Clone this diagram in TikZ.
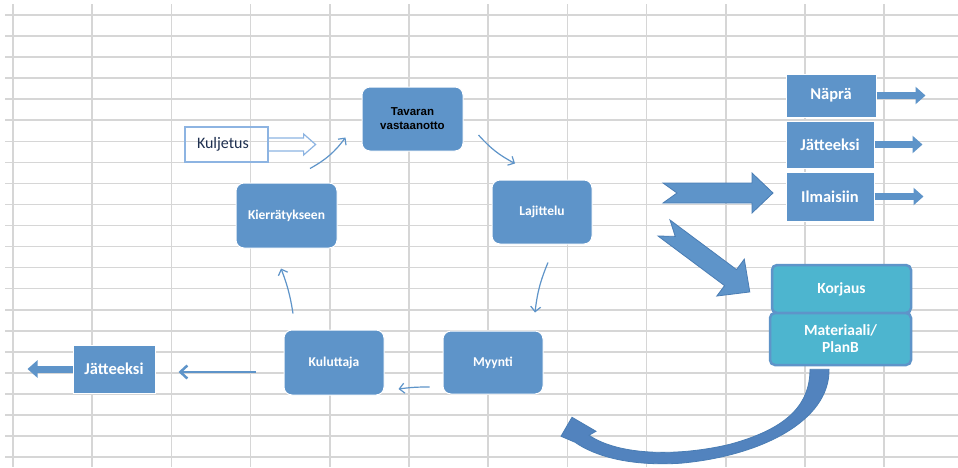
\documentclass[tikz,border=0pt]{standalone}
\usepackage{fontspec}
\setmainfont{Carlito}
\newfontfamily\headfont{Liberation Sans}
\usetikzlibrary{arrows.meta,calc}

\definecolor{boxblue}{HTML}{5E94C9}
\definecolor{edgeblue}{HTML}{4A7DB4}
\definecolor{curveblue}{HTML}{5283BE}
\definecolor{aquafill}{HTML}{4DB5CF}
\definecolor{gridgray}{HTML}{D6D6D6}
\definecolor{outlineblue}{HTML}{8DB4E2}
\definecolor{inknavy}{HTML}{1F3050}

% notched block arrow along +x: #1 length, #2 head length, #3 head half-width
\newcommand\chevronshape[3]{(0,-10) -- (#1-#2,-10) -- (#1-#2,-#3) -- (#1,0)
  -- (#1-#2,#3) -- (#1-#2,10) -- (0,10) -- (14,0) -- cycle}

\tikzset{
  cycbox/.style={draw=white, line width=1pt, fill=boxblue, rounded corners=8pt,
    text=white, font=\bfseries\fontsize{13.5}{15}\selectfont, align=center, inner sep=0pt},
  headbox/.style={cycbox, text=black, font=\headfont\bfseries\fontsize{11.5}{14}\selectfont},
  sqbox/.style={draw=white, line width=1pt, fill=boxblue, text=white,
    font=\bfseries\fontsize{16.5}{18}\selectfont, inner sep=0pt},
  aquabox/.style={draw=boxblue, line width=2.5pt, fill=aquafill, rounded corners=5pt,
    text=white, font=\bfseries\fontsize{15.5}{17}\selectfont, align=center, inner sep=0pt},
  flow/.style={draw=boxblue, line width=1.2pt, -{Straight Barb[length=5pt,width=10pt]}},
  bigflow/.style={draw=boxblue, line width=2.5pt, -{Straight Barb[length=7pt,width=13pt]}},
  blockout/.style={draw=boxblue, line width=7pt, -{Triangle[length=10pt,width=17pt]}},
  chev/.style={fill=boxblue, draw=edgeblue, line width=0.8pt, line join=miter},
  gridline/.style={draw=gridgray, line width=1.6pt},
}

\begin{document}
\begin{tikzpicture}[x=1pt,y=-1pt]
\useasboundingbox (0,0) rectangle (958,467);
\fill[white] (0,0) rectangle (958,467);

% spreadsheet grid
\foreach \k in {0,...,11}
  \draw[gridline] ({13+79.2*\k},4) -- ({13+79.2*\k},467);
\foreach \k in {0,...,21}
  \draw[gridline] (5,{15+21.05*\k}) -- (958,{15+21.05*\k});

% cycle
\node[headbox, minimum width=101pt, minimum height=64pt] (tav) at (412.5,119) {Tavaran\\vastaanotto};
\node[cycbox, minimum width=100pt, minimum height=64pt] (laj) at (542,212) {Lajittelu};
\node[cycbox, minimum width=100pt, minimum height=63pt] (myy) at (493,362.5) {Myynti};
\node[cycbox, minimum width=100pt, minimum height=65pt] (kul) at (334,362.5) {Kuluttaja};
\node[cycbox, minimum width=101pt, minimum height=65pt] (kier) at (286.5,215.5) {Kierrätykseen};

\draw[flow] ($(kier.north)+(23.5,-14)$) to[bend right=12] ($(tav.south west)+(-16,-14)$);
\draw[flow] ($(tav.east)+(15,16)$) to[bend right=10] ($(laj.north)+(-27,-16)$);
\draw[flow] ($(laj.south)+(6,18)$) to[bend right=8] ($(myy.north)+(42,-18)$);
\draw[flow] ($(myy.west)+(-13,24.5)$) to[bend right=4] ($(kul.east)+(14,26.5)$);
\draw[flow] ($(kul.north)+(-41,-16)$) to[bend right=6] ($(kier.south)+(-5.5,20)$);

% transport input
\node[draw=outlineblue, line width=1.2pt, minimum height=35pt, text width=59pt,
      inner xsep=12pt, inner ysep=0pt, align=left, text=inknavy,
      font=\fontsize{16}{18}\selectfont] (kulj) at (226.5,144.5) {Kuljetus};
\draw[outlineblue, line width=1.2pt, line join=miter]
  ($(kulj.east)+(0,-6.5)$) -- ($(kulj.east)+(35,-6.5)$) -- ($(kulj.east)+(35,-10.5)$)
  -- ($(kulj.east)+(47,0)$) -- ($(kulj.east)+(35,10.5)$) -- ($(kulj.east)+(35,6.5)$)
  -- ($(kulj.east)+(0,6.5)$);

% consumer to waste
\node[sqbox, minimum width=82pt, minimum height=48pt] (jat) at (114,369) {Jätteeksi};
\draw[bigflow] ($(kul.west)+(-28,9.5)$) -- ($(jat.east)+(23,3)$);
\coordinate (jatout) at ($(jat.west)+(-45,0)$);
\draw[blockout] (jat.west) -- (jatout);

% sorting outcomes
\node[sqbox, minimum width=90pt, minimum height=43pt] (nap) at (831,95.5) {Näprä};
\node[sqbox, minimum width=88pt, minimum height=47pt] (jat2) at (830,144.5) {Jätteeksi};
\node[sqbox, minimum width=88pt, minimum height=49pt] (ilm) at (830,196.5) {Ilmaisiin};
\coordinate (napout) at ($(nap.east)+(49,0)$);
\coordinate (jat2out) at ($(jat2.east)+(48,0)$);
\coordinate (ilmout) at ($(ilm.east)+(49,0)$);
\draw[blockout] (nap.east) -- (napout);
\draw[blockout] (jat2.east) -- (jat2out);
\draw[blockout] (ilm.east) -- (ilmout);

% repair stack
\node[aquabox, minimum width=139pt, minimum height=48pt] (kor) at (841.5,289) {Korjaus};
\node[aquabox, minimum width=141pt, minimum height=52pt] (mat) at (840.5,339) {Materiaali/\\PlanB};

% notched block arrows out of sorting
\begin{scope}[shift={(663,193)}]
  \filldraw[chev] \chevronshape{110}{21}{20};
\end{scope}
\begin{scope}[shift={(664,228)}, rotate=-36.7]
  \filldraw[chev] \chevronshape{107}{24}{23};
\end{scope}

% curved return arrow back towards the sales
\begin{scope}[shift={(mat.south)}]
  \filldraw[fill=curveblue, draw=edgeblue, line width=0.8pt, line join=miter]
    (-11.5,3) .. controls (-10.5,55) and (-80.5,90) .. (-160.5,97)
    .. controls (-210.5,100) and (-245.5,90) .. (-265.5,76)
    -- (-279.5,70) -- (-268.5,51) -- (-244.5,65) -- (-251.5,69)
    .. controls (-220.5,90) and (-160.5,90) .. (-110.5,78)
    .. controls (-55.5,63) and (-30.5,40) .. (-30.5,3) -- cycle;
\end{scope}
\end{tikzpicture}
\end{document}
